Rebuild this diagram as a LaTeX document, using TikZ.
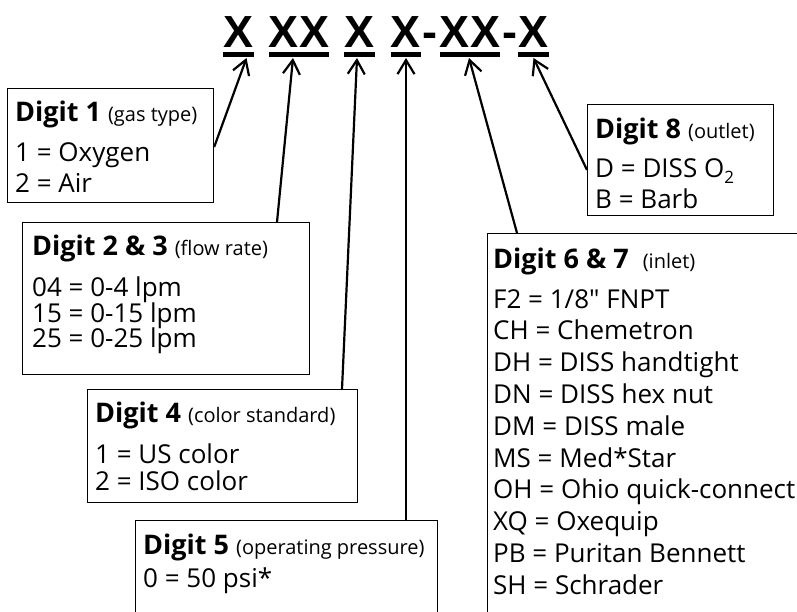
\documentclass[tikz,border=0pt]{standalone}
\usepackage{fontspec}
\setmainfont{Open Sans}
\newfontfamily\titlefont{Liberation Sans}
\usetikzlibrary{arrows.meta, positioning}

\newcommand{\paren}[1]{{\fontsize{20}{21}\selectfont\mdseries #1}}
\newcommand{\subtwo}{\raisebox{-6pt}{\fontsize{17}{17}\selectfont 2}}

\begin{document}
\begin{tikzpicture}[x=1pt, y=-1pt,
  legend/.style={draw, line width=1.2pt, rectangle, anchor=north west, inner sep=0pt},
  head/.style={anchor=base west, inner sep=0pt, font=\fontsize{27}{30}\selectfont\bfseries},
  entry/.style={anchor=base west, inner sep=0pt, font=\fontsize{26}{30}\selectfont},
  digit/.style={anchor=base, inner sep=0pt, font=\titlefont\bfseries\fontsize{45}{50}\selectfont},
  link/.style={line width=2.2pt, ->},
  >={Straight Barb[length=14pt, width=17pt]}
]
  \clip (0,0) rectangle (797,611);

  % part number
  \node[digit] (d1)  at (238.5,47) {X};
  \node[digit] (d23) at (299,47)   {XX};
  \node[digit] (d4)  at (359.5,47) {X};
  \node[digit] (d5)  at (406,47)   {X};
  \node[digit] (h1)  at (430,47)   {-};
  \node[digit] (d67) at (470,47)   {XX};
  \node[digit] (h2)  at (510,47)   {-};
  \node[digit] (d8)  at (533.5,47) {X};
  \foreach \d in {d1,d23,d4,d5,d67,d8}
    \fill ([yshift=-5pt]\d.base west) rectangle ([yshift=-10pt]\d.base east);

  \coordinate (t1) at ([shift={(8,11)}]d1.base);
  \coordinate (t2) at ([shift={(-6,11)}]d23.base);
  \coordinate (t4) at ([shift={(-2.5,11)}]d4.base);
  \coordinate (t5) at ([shift={(0,11)}]d5.base);
  \coordinate (t6) at ([shift={(-1,11)}]d67.base);
  \coordinate (t8) at ([shift={(0,11)}]d8.base);

  % digit 1
  \node[legend, minimum width=206pt, minimum height=114pt] (b1) at (7,88) {};
  \node[head]  (b1h) at ([shift={(8,33)}]b1.north west)  {Digit 1 \paren{(gas type)}};
  \node[entry] (b1a) at ([shift={(8,73)}]b1.north west)  {1 = Oxygen};
  \node[entry] (b1b) at ([shift={(8,104)}]b1.north west) {2 = Air};

  % digits 2 and 3
  \node[legend, minimum width=287pt, minimum height=152pt] (b2) at (22,222) {};
  \node[head]  (b2h) at ([shift={(10,33)}]b2.north west)  {Digit 2 \& 3 \paren{(flow rate)}};
  \node[entry] (b2a) at ([shift={(10,74)}]b2.north west)  {04 = 0-4 lpm};
  \node[entry] (b2b) at ([shift={(10,100)}]b2.north west) {15 = 0-15 lpm};
  \node[entry] (b2c) at ([shift={(10,125)}]b2.north west) {25 = 0-25 lpm};

  % digit 4
  \node[legend, minimum width=270pt, minimum height=113pt] (b4) at (87,389) {};
  \node[head]  (b4h) at ([shift={(8,33)}]b4.north west)  {Digit 4 \paren{(color standard)}};
  \node[entry] (b4a) at ([shift={(8,74)}]b4.north west)  {1 = US color};
  \node[entry] (b4b) at ([shift={(8,101)}]b4.north west) {2 = ISO color};

  % digit 5
  \node[legend, minimum width=302pt, minimum height=110pt] (b5) at (135,520) {};
  \node[head]  (b5h) at ([shift={(8,34)}]b5.north west) {Digit 5 \paren{(operating pressure)}};
  \node[entry] (b5a) at ([shift={(8,67)}]b5.north west) {0 = 50 psi*};

  % digits 6 and 7
  \node[legend, minimum width=330pt, minimum height=400pt] (b67) at (487,233) {};
  \node[head] (b67h) at ([shift={(6,35)}]b67.north west) {Digit 6 \& 7\ \ \paren{(inlet)}};
  \foreach \txt [count=\i from 0] in {F2 = 1/8\textquotedbl{} FNPT, CH = Chemetron, DH = DISS handtight,
      DN = DISS hex nut, DM = DISS male, MS = Med*Star, OH = Ohio quick-connect,
      XQ = Oxequip, PB = Puritan Bennett, SH = Schrader}
    \node[entry] (b67-\i) at ([shift={(6,{75+31.8*\i})}]b67.north west) {\txt};

  % digit 8
  \node[legend, minimum width=186pt, minimum height=111pt] (b8) at (587,104) {};
  \node[head]  (b8h) at ([shift={(8,34)}]b8.north west)  {Digit 8 \paren{(outlet)}};
  \node[entry] (b8a) at ([shift={(8,73)}]b8.north west)  {D = DISS O\subtwo};
  \node[entry] (b8b) at ([shift={(8,104)}]b8.north west) {B = Barb};

  % pointers
  \draw[link] ([yshift=-59pt]b1.north east) -- (t1);
  \draw[link] ([xshift=255pt]b2.north west) -- (t2);
  \draw[link] ([xshift=255pt]b4.north west) -- (t4);
  \draw[link] ([xshift=271pt]b5.north west) -- (t5);
  \draw[link] ([xshift=30pt]b67.north west) -- (t6);
  \draw[link] ([yshift=-66pt]b8.north west) -- (t8);
\end{tikzpicture}
\end{document}
